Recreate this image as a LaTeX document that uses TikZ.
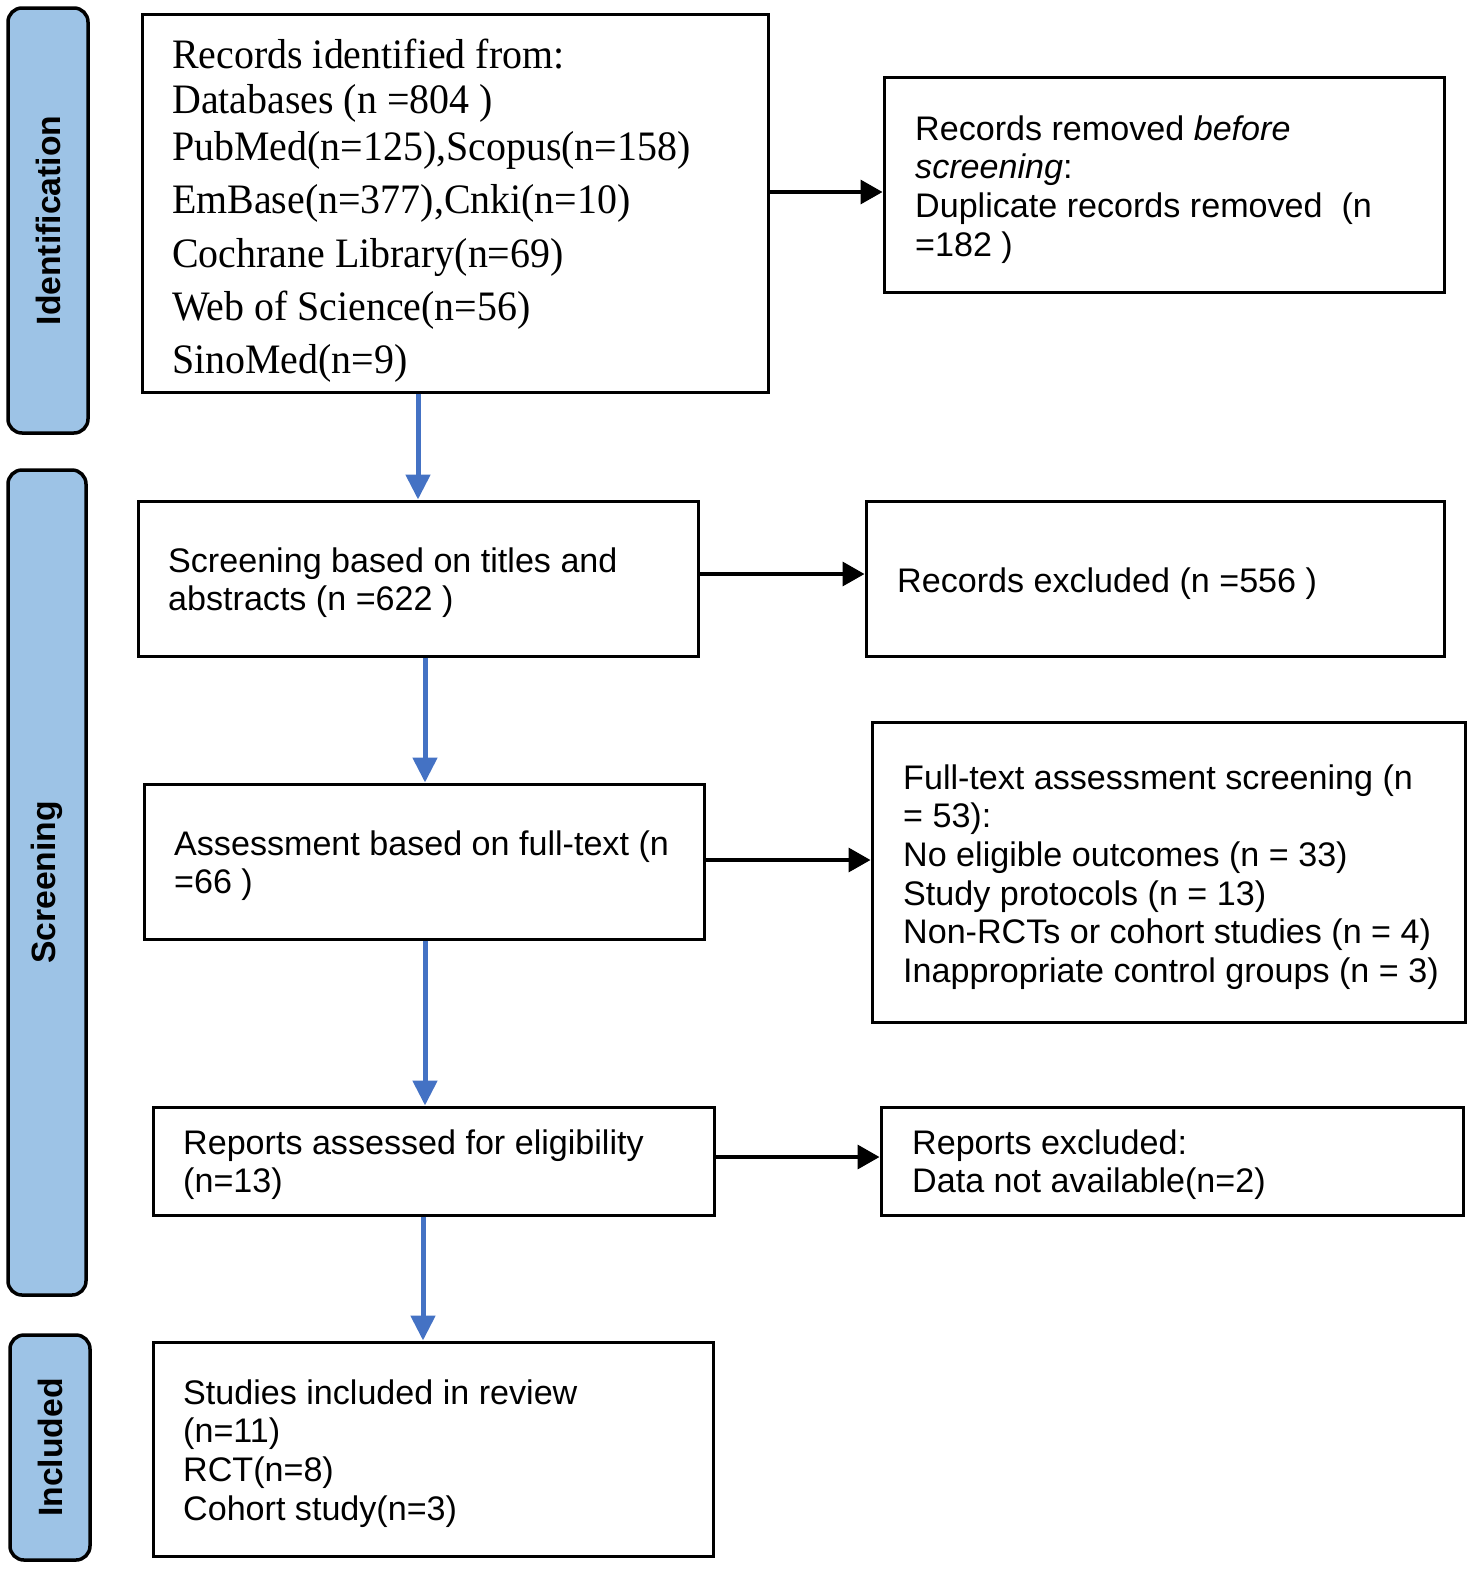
\documentclass[tikz,border=0pt]{standalone}
\usepackage{fontspec}
\usepackage{graphicx}
\setmainfont{Liberation Sans}
\newfontfamily\seriffont{Liberation Serif}
\usetikzlibrary{arrows.meta}
\definecolor{barblue}{HTML}{9DC3E6}
\definecolor{arrblue}{HTML}{4472C4}
\newcommand{\lns}[1]{\begin{tabular}[t]{@{}l@{}}#1\end{tabular}}
\begin{document}
\begin{tikzpicture}[x=1pt,y=-1pt,
 box/.style={draw=black, line width=3pt, inner sep=0pt},
 bar/.style={draw=black, line width=3.5pt, fill=barblue, rounded corners=14pt, inner sep=0pt},
 txt/.style={anchor=base west, inner sep=0pt, font=\fontsize{34.1}{38.7}\selectfont},
 stxt/.style={anchor=base west, inner sep=0pt, font=\seriffont\fontsize{39.9}{42.9}\selectfont},
 lab/.style={rotate=90, inner sep=0pt, font=\bfseries\fontsize{33.7}{40}\selectfont},
 blk/.style={-{Triangle[length=22pt,width=24pt]}, line width=3.5pt},
 blu/.style={-{Triangle[length=25pt,width=24pt]}, line width=5pt, draw=arrblue, color=arrblue},
]
\useasboundingbox (0,0) rectangle (1477,1572);

% side bars
\node[bar, minimum width=80pt, minimum height=425pt] (bid) at (48,220.5) {};
\node[bar, minimum width=78pt, minimum height=825pt] (bsc) at (47,882.5) {};
\node[bar, minimum width=80pt, minimum height=225pt] (bin) at (50,1447.5) {};
\node[lab] (lid) at (bid.center) {Identification};
\node[lab] (lsc) at (bsc.center) {Screening};
\node[lab] (lin) at (bin.center) {Included};

% boxes
\node[box, minimum width=626pt, minimum height=378pt] (A) at (455,203) {};
\node[box, minimum width=560pt, minimum height=215pt] (B) at (1164,184.5) {};
\node[box, minimum width=560pt, minimum height=155pt] (C) at (418,578.5) {};
\node[box, minimum width=578pt, minimum height=155pt] (D) at (1155,578.5) {};
\node[box, minimum width=560pt, minimum height=155pt] (E) at (424,861.5) {};
\node[box, minimum width=593pt, minimum height=300pt] (F) at (1168.5,872) {};
\node[box, minimum width=561pt, minimum height=108pt] (G) at (433.5,1161) {};
\node[box, minimum width=582pt, minimum height=108pt] (H) at (1172,1161) {};
\node[box, minimum width=560pt, minimum height=214pt] (I) at (433,1449) {};

% texts
\node[stxt] (tA) at (172,68) {\scalebox{1}[1.05]{\lns{Records identified from:\\
Databases (n =804 )\\[2pt]
PubMed(n=125),Scopus(n=158)\\[7.6pt]
EmBase(n=377),Cnki(n=10)\\[8.5pt]
Cochrane Library(n=69)\\[7.6pt]
Web of Science(n=56)\\[7.6pt]
SinoMed(n=9)}}};
\node[txt] (tB) at (915,140) {\lns{Records removed \textit{before}\\
\textit{screening}:\\
Duplicate records removed\ \ (n\\
=182 )}};
\node[txt] (tC) at (168,572) {\lns{Screening based on titles and\\
abstracts (n =622 )}};
\node[txt] (tD) at (897,592) {Records excluded (n =556 )};
\node[txt] (tE) at (174,855) {\lns{Assessment based on full-text (n\\
=66 )}};
\node[txt] (tF) at (903,789) {\lns{Full-text assessment screening (n\\
= 53):\\
No eligible outcomes (n = 33)\\
Study protocols (n = 13)\\
Non-RCTs or cohort studies (n = 4)\\
Inappropriate control groups (n = 3)}};
\node[txt] (tG) at (183,1154) {\lns{Reports assessed for eligibility\\
(n=13)}};
\node[txt] (tH) at (912,1154) {\lns{Reports excluded:\\
Data not available(n=2)}};
\node[txt] (tI) at (183,1404) {\lns{Studies included in review\\
(n=11)\\
RCT(n=8)\\
Cohort study(n=3)}};

% black arrows
\draw[blk] (A.east |- 0,192) -- (B.west |- 0,192);
\draw[blk] (C.east |- 0,574) -- (D.west |- 0,574);
\draw[blk] (E.east |- 0,860) -- (F.west |- 0,860);
\draw[blk] (G.east |- 0,1157) -- (H.west |- 0,1157);

% blue arrows
\draw[blu] (A.south -| 418,0) -- (C.north -| 418,0);
\draw[blu] (C.south -| 425,0) -- (E.north -| 425,0);
\draw[blu] (E.south -| 425,0) -- (G.north -| 425,0);
\draw[blu] (G.south -| 423,0) -- (I.north -| 423,0);
\end{tikzpicture}
\end{document}
